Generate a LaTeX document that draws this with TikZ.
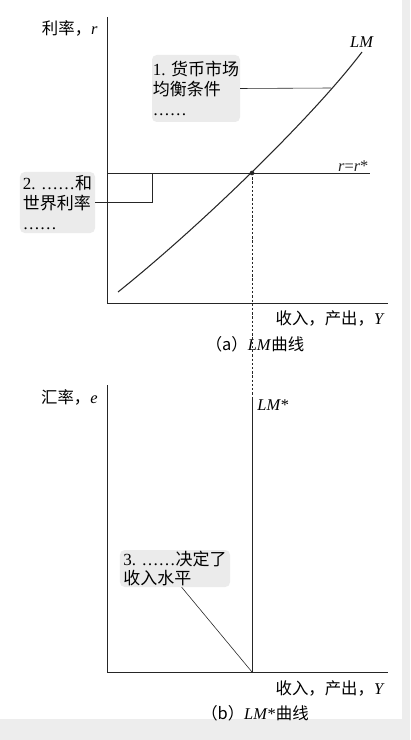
\documentclass[tikz,border=0pt]{standalone}
\usepackage{fontspec}
\setmainfont{Liberation Serif}
\newfontfamily\cjk{Noto Sans CJK SC}
\newcommand{\zh}[1]{{\cjk #1}}
\usetikzlibrary{positioning}

\tikzset{
  axe/.style={line width=0.7pt, black!85},
  courbe/.style={line width=0.9pt, black!85},
  renvoi/.style={line width=0.5pt, black!85},
  boite/.style={fill=black!8, rounded corners=4pt, align=left, inner sep=0pt,
    font=\fontsize{14.5}{17}\selectfont},
  etiq/.style={font=\fontsize{14}{16}\selectfont, inner sep=1pt},
}

\begin{document}
\begin{tikzpicture}[x=0.03cm, y=-0.03cm]
\useasboundingbox (0,0) rectangle (410,740);
%bords gris du scan
\fill[black!7] (402,0) rectangle (410,740);
\fill[black!7] (0,719) rectangle (410,740);

%(a) courbe LM
\coordinate (O1) at (107,303);
\draw[axe] (107,17) -- (O1) -- (388,303);
\node[etiq, anchor=east] (ra) at (99,28) {\zh{利率，}\textit{r}};
\node[etiq, anchor=east] (ya) at (386,318) {\zh{收入，产出，}\textit{Y}};
\node[etiq] (ca) at (255,344) {\zh{（a）}\textit{LM}\zh{曲线}};

\coordinate (E1) at (252,173);
\coordinate (k2) at (152,173);
\coordinate (m1) at (331,88);
\draw[axe] (107,173) -- (370,173) node[etiq, anchor=south east] (rr) {\textit{r}=\textit{r}*};
\draw[courbe] (118,292) .. controls (198,228) and (312,118) .. (362,52);
\node[etiq] (lm) at (362,42) {\textit{LM}};
\fill[black!85] (E1) circle[radius=0.07cm];

%boites de commentaire
\node[boite, minimum width=2.64cm, minimum height=2.01cm] (b1) at (196,88.5)
  {1. \zh{货币市场}\\\zh{均衡条件}\\……};
\node[boite, minimum width=2.25cm, minimum height=1.83cm] (b2) at (57.5,202.5)
  {2. ……\zh{和}\\\zh{世界利率}\\……};
\draw[renvoi] (b1.east) -- (m1);
\draw[renvoi] (b2.east) -| (k2);

%(b) courbe LM*
\coordinate (O2) at (107,672);
\coordinate (E2) at (252,672);
\coordinate (T2) at (252,397);
\draw[axe] (107,385) -- (O2) -- (388,672);
\node[etiq, anchor=east] (eb) at (99,397) {\zh{汇率，}\textit{e}};
\node[etiq, anchor=east] (yb) at (386,688) {\zh{收入，产出，}\textit{Y}};
\node[etiq] (cb) at (255,713) {\zh{（b）}\textit{LM}*\zh{曲线}};

\draw[line width=0.6pt, black!85, dash pattern=on 2pt off 1.6pt] (E1) -- (T2);
\draw[axe] (T2) -- (E2);
\node[etiq, anchor=west] (lms) at (256,405) {\textit{LM}*};

\node[boite, minimum width=3.3cm, minimum height=1.11cm] (b3) at (175,568.5)
  {3. ……\zh{决定了}\\\zh{收入水平}};
\draw[renvoi] ([xshift=0.2cm]b3.south) -- (E2);
\end{tikzpicture}
\end{document}
